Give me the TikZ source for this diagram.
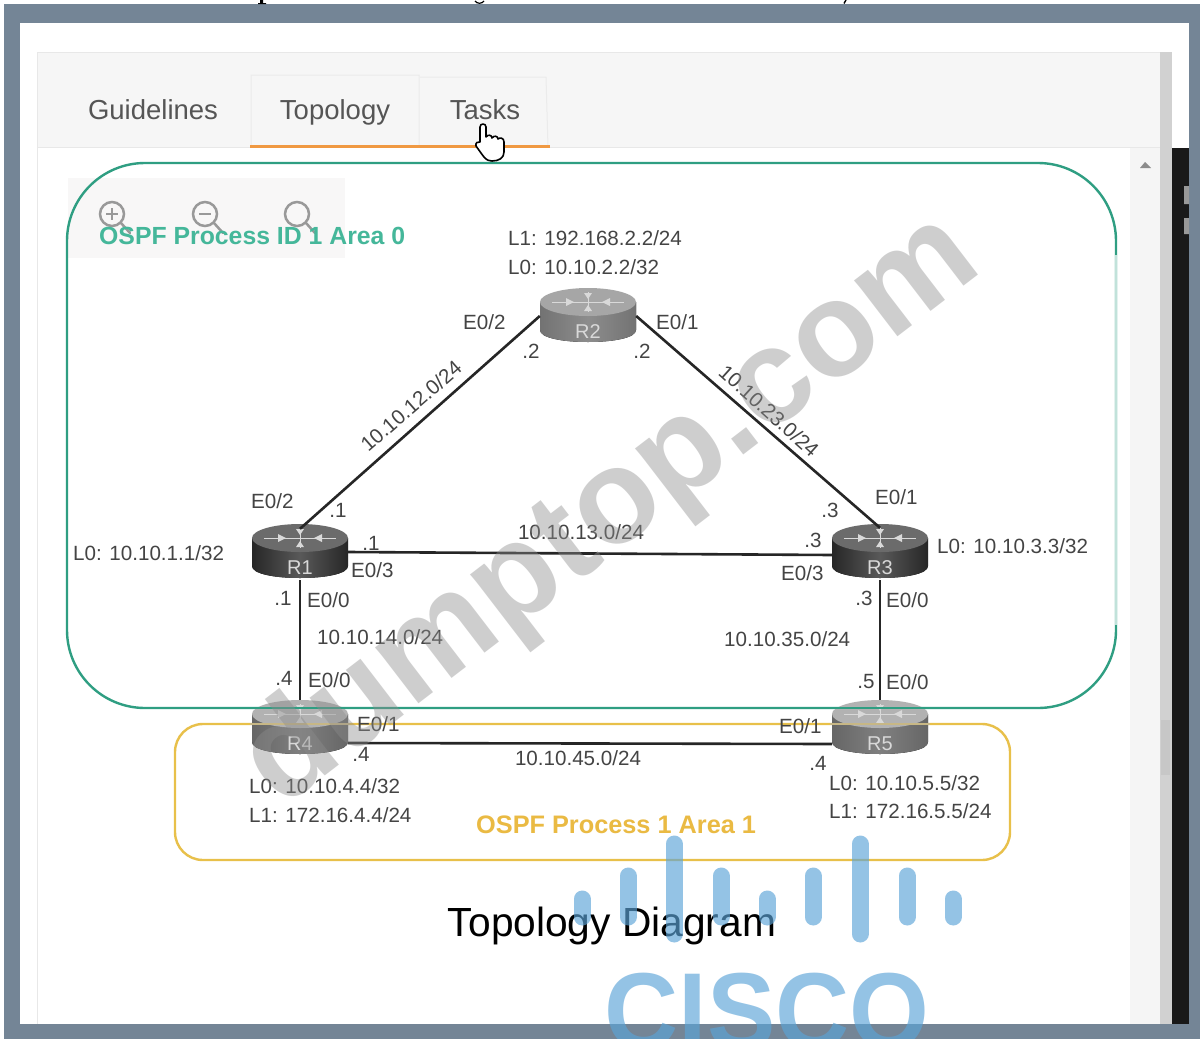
\documentclass[tikz,border=0pt]{standalone}
\usepackage{fontspec}
\setmainfont{Liberation Sans}
\definecolor{framegrey}{HTML}{748596}
\definecolor{ospfteal}{HTML}{2F9E82}
\definecolor{ospftext}{HTML}{45B79A}
\definecolor{ospfgold}{HTML}{E8C04A}
\definecolor{labelgrey}{HTML}{444444}
\definecolor{tabgrey}{HTML}{555555}
\definecolor{ciscoblue}{HTML}{5BA4D8}
\tikzset{
  link/.style={draw=black!85,line width=2.6pt},
  netlabel/.style={font=\fontsize{20.6}{22}\selectfont,text=labelgrey,inner sep=0pt},
  leftlabel/.style={netlabel,anchor=west},
  routerbox/.style={minimum width=96pt,minimum height=56pt,inner sep=0pt,draw=none},
  routername/.style={font=\fontsize{20}{22}\selectfont,text=white!85!black,inner sep=0pt},
  tabtext/.style={font=\fontsize{27.5}{30}\selectfont,text=tabgrey,inner sep=0pt,anchor=base},
  zoomicon/.style={draw=black!40,line width=2.5pt,line cap=round},
  ciscobar/.style={line width=17pt,line cap=round,draw=ciscoblue,opacity=.65},
}
% name, x, y, body edge, body middle, top colour
\newcommand{\routernode}[6]{%
  \begin{scope}[shift={(#2,#3)}]
    \fill[left color=#4,right color=#4,middle color=#5]
      (-48,-14) -- (-48,14) .. controls (-48,22) and (-25,26) .. (0,26)
      .. controls (25,26) and (48,22) .. (48,14) -- (48,-14) -- cycle;
    \fill[#6] (0,-14) ellipse [x radius=48pt,y radius=14pt];
    \draw[white!85!black,line width=1pt] (-36,-14) -- (36,-14) (0,-24) -- (0,-4);
    \fill[white!85!black] (-14,-14) -- (-22,-18) -- (-22,-10) -- cycle
      (14,-14) -- (22,-18) -- (22,-10) -- cycle
      (0,-17) -- (-4,-23) -- (4,-23) -- cycle
      (0,-11) -- (-4,-5) -- (4,-5) -- cycle;
    \node[routerbox] (#1) at (0,0) {};
    \node[routername] at (0,16) {#1};
  \end{scope}}
\begin{document}
\begin{tikzpicture}[x=1pt,y=-1pt]
\useasboundingbox (0,0) rectangle (1200,1039);
\fill[white] (0,0) rectangle (1200,1039);
% frame
\fill[framegrey] (4,4) rectangle (1200,1039);
\fill[white] (20,23) rectangle (1189,1024);
% fragment of the cut text at the very top
\fill[black] (260,0) rectangle (263,3.5) (258,3) rectangle (266,4);
\draw[black,line width=1.2pt] (475,1) .. controls (477,4) and (482,4) .. (484,1);
\draw[black,line width=1.4pt] (846,0) -- (844,3.5);
% panel
\fill[black!3.5] (37,52) rectangle (1160,147);
\draw[black!9,line width=1pt] (37,52) -- (1172,52) (37,52) -- (37,1024) (37,147) -- (1160,147);
\fill[black!4] (1130,148) rectangle (1160,1024);
\fill[black!18] (1160,52) rectangle (1172,1024);
\fill[black!22] (1161,720) rectangle (1170,775);
\fill[black!45] (1140,168) -- (1145,162) -- (1151,168) -- cycle;
\fill[black!90] (1172,148) rectangle (1189,1024);
\fill[black!40] (1184,186) rectangle (1189,204) (1184,218) rectangle (1189,234);
% tabs
\draw[black!8,line width=1pt] (251,147) -- (251,75) -- (419,75) -- (419,147)
  (420,77) -- (546,77) -- (548,147);
\fill[orange!70!brown!80!white] (250,144.5) rectangle (550,148);
\node[tabtext] (tabG) at (153,119) {Guidelines};
\node[tabtext] (tabTo) at (335,119) {Topology};
\node[tabtext] (tabTa) at (485,119) {Tasks};
% zoom toolbar
\fill[red!2!black!3] (68,178) rectangle (345,258);
\foreach \ix in {112,205,297}{
  \draw[zoomicon] (\ix,214) circle [radius=12pt];
  \draw[zoomicon] (\ix+9,223) -- (\ix+18,233);
}
\draw[black!40,line width=1.5pt] (106,214) -- (118,214) (112,208) -- (112,220) (199,214) -- (211,214);
% area boxes
\draw[ospfteal,line width=2.4pt,rounded corners=78pt] (67,163) rectangle (1116,708);
\draw[ospfteal!30!white,line width=2.6pt] (1116,255) -- (1116,625);
\draw[ospfgold,line width=2.4pt,rounded corners=28pt] (175,724) rectangle (1010,860);
\node[font=\bfseries\fontsize{24.8}{26}\selectfont,text=ospftext,anchor=west,inner sep=0pt] (area0) at (99,236) {OSPF Process ID 1 Area 0};
\node[font=\bfseries\fontsize{25.3}{27}\selectfont,text=ospfgold!90!orange,anchor=west,inner sep=0pt] (area1) at (476,825) {OSPF Process 1 Area 1};
% routers
\routernode{R1}{300}{552}{black!85}{black!65}{black!58}
\routernode{R2}{588}{316}{black!55}{black!45}{black!35}
\routernode{R3}{880}{552}{black!85}{black!65}{black!58}
\routernode{R4}{300}{728}{black!60}{black!50}{black!30}
\routernode{R5}{880}{728}{black!60}{black!50}{black!30}
% band lines over the faded routers
\draw[ospfteal,line width=2.4pt] (250,708) -- (350,708) (830,708) -- (930,708);
\draw[ospfgold!70!black!60!white,line width=2.4pt] (250,724) -- (350,724) (830,724) -- (930,724);
% links
\draw[link] ([yshift=-5pt]R1.north) -- (R2.west);
\draw[link] (R2.east) -- ([yshift=-4pt]R3.north);
\draw[link] (R1.east) -- ([yshift=-3pt]R3.west);
\draw[link] (R1.south) -- (R4.north);
\draw[link] (R3.south) -- (R5.north);
\draw[link] ([yshift=-15pt]R4.east) -- ([yshift=-16pt]R5.west);
% labels
\node[leftlabel] (a1) at (508,238) {L1: 192.168.2.2/24};
\node[leftlabel] (a2) at (508,267) {L0: 10.10.2.2/32};
\node[leftlabel] (a3) at (463,322) {E0/2};
\node[netlabel] (a4) at (531,351) {.2};
\node[leftlabel] (a5) at (656,322) {E0/1};
\node[netlabel] (a6) at (642,351) {.2};
\node[netlabel,rotate=41] (a7) at (411,406) {10.10.12.0/24};
\node[netlabel,rotate=-42] (a8) at (769,411) {10.10.23.0/24};
\node[leftlabel] (b1) at (251,501) {E0/2};
\node[netlabel] (b2) at (338,510) {.1};
\node[leftlabel] (b3) at (73,553) {L0: 10.10.1.1/32};
\node[netlabel] (b4) at (371,543) {.1};
\node[leftlabel] (b5) at (351,570) {E0/3};
\node[netlabel] (b6) at (283,598) {.1};
\node[leftlabel] (b7) at (307,600) {E0/0};
\node[leftlabel] (b8) at (317,637) {10.10.14.0/24};
\node[netlabel] (b9) at (284,678) {.4};
\node[leftlabel] (b10) at (308,680) {E0/0};
\node[leftlabel] (b11) at (357,724) {E0/1};
\node[netlabel] (b12) at (361,754) {.4};
\node[leftlabel] (b13) at (249,786) {L0: 10.10.4.4/32};
\node[leftlabel] (b14) at (249,815) {L1: 172.16.4.4/24};
\node[netlabel] (c1) at (581,532) {10.10.13.0/24};
\node[netlabel] (c2) at (578,758) {10.10.45.0/24};
\node[netlabel] (d1) at (830,510) {.3};
\node[leftlabel] (d2) at (875,497) {E0/1};
\node[netlabel] (d3) at (813,540) {.3};
\node[leftlabel] (d4) at (937,546) {L0: 10.10.3.3/32};
\node[leftlabel] (d5) at (781,573) {E0/3};
\node[netlabel] (d6) at (864,598) {.3};
\node[leftlabel] (d7) at (886,600) {E0/0};
\node[leftlabel] (d8) at (724,639) {10.10.35.0/24};
\node[netlabel] (d9) at (866,682) {.5};
\node[leftlabel] (d10) at (886,682) {E0/0};
\node[leftlabel] (d11) at (779,726) {E0/1};
\node[netlabel] (d12) at (818,763) {.4};
\node[leftlabel] (d13) at (829,783) {L0: 10.10.5.5/32};
\node[leftlabel] (d14) at (829,811) {L1: 172.16.5.5/24};
\node[font=\fontsize{40.7}{42}\selectfont,text=black,inner sep=0pt] (title) at (612,926) {Topology Diagram};
% hand cursor
\draw[black,fill=white,line width=1.6pt,line join=round]
  (480,142) -- (480,127) .. controls (480,123) and (486,123) .. (486,127) -- (486,137)
  .. controls (488,134) and (492,135) .. (492,138) .. controls (494,135) and (498,136) .. (498,139)
  .. controls (500,137) and (504,138) .. (504,142) -- (504,152)
  .. controls (504,158) and (499,161) .. (492,161) .. controls (486,161) and (484,157) .. (481,153)
  -- (476,146) .. controls (475,143) and (478,141) .. (480,142) -- cycle;
% watermark
\node[font=\bfseries\fontsize{134}{136}\selectfont,text=black!45,opacity=.42,rotate=37.5,inner sep=0pt] (wm) at (612,512) {dumptop.com};
% cisco logo
\foreach \bx/\bt/\bb in {582/899/917,628/876/917,674/844/934,721/876/917,767/899/917,813/876/917,860/844/934,907/876/917,953/899/917}{
  \draw[ciscobar] (\bx,\bt) -- (\bx,\bb);
}
\node[font=\bfseries\fontsize{108}{110}\selectfont,text=ciscoblue,opacity=.65,xscale=.95,inner sep=0pt,anchor=base] (cisco) at (767,1048) {CISCO};
\end{tikzpicture}
\end{document}
